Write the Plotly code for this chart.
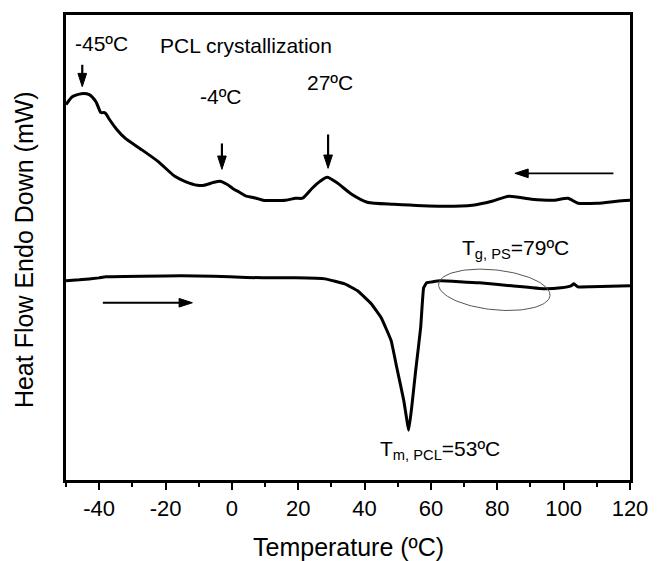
import numpy as np
import plotly.graph_objects as go

# ---- data (y in arbitrary heat-flow units) ----
cool_T = [-50, -48.1, -45.4, -43.0, -41.0, -39.5, -38.6, -38.0, -37.1, -34.7, -32.1, -27.3,
          -22.3, -17.2, -14.2, -10.4, -8.4, -5.4, -3.6, -1.5, 0.6, 2.3, 4.4, 7.3, 9.4,
          16.2, 19.2, 21.3, 24.2, 26.6, 28.7, 31.9, 36.1, 40.8, 48.8, 63.6, 72.5, 78.4,
          83.5, 90.3, 97.2, 101.3, 104.3, 110.2, 116.1, 120]
cool_HF = [377, 385, 388, 387, 380, 369, 369, 368, 363, 352, 343, 332,
           320, 305, 300, 296, 296, 299, 300, 297, 292, 289, 285, 283, 281,
           281, 283, 283, 293, 300, 304, 298, 287, 279, 277, 275, 276, 280,
           285, 282, 281, 283, 278, 278, 280, 281]

heat_T = [-50, -46.0, -40.1, -38.0, -20.2, -10.4, -0.7, 9.4, 19.2, 28.1, 34.0, 37.9,
          42.0, 45.0, 48.0, 49.7, 51.8, 53.3, 54.2, 55.4, 56.9, 57.8, 58.7, 62.8,
          74.6, 84.4, 94.2, 99.2, 102.2, 103.1, 104.3, 108.1, 120]
heat_HF = [200, 201, 203, 204, 205, 205, 204, 203, 203, 202, 197, 190,
           177, 163, 140, 113, 80, 50, 73, 110, 153, 193, 198, 200,
           198, 195, 192, 193, 195, 197, 194, 194, 195]

x_ticks = [-40, -20, 0, 20, 40, 60, 80, 100, 120]
x_ticktext = ["-40", "-20", "0", "20", "40", "60", "80", "100", "120"]
x_range = [-50, 120]
y_range = [0, 467]

# ellipse marking the PS glass transition
ell_center = (79.1, 191)
ell_a_px, ell_b_px, ell_angle_deg = 57, 20, -6

# arrows: (tail_x, tail_y, tip_x, tip_y, line width, head size)
arrows = [
    (-45.1, 417, -45.1, 395, 2.2, 14),
    (-3.0, 338, -3.0, 312, 2.2, 14),
    (29.0, 347, 29.0, 313, 2.2, 14),
    (115.0, 308, 85.3, 308, 1.8, 14),
    (-38.9, 178, -11.9, 178, 1.8, 14),
]

FONT = "Liberation Sans, Arial, Helvetica, sans-serif"

fig = go.Figure()
fig.add_trace(go.Scatter(x=cool_T, y=cool_HF, mode="lines",
                         line=dict(color="black", width=3, shape="spline", smoothing=0.6),
                         showlegend=False, hoverinfo="skip"))
fig.add_trace(go.Scatter(x=heat_T, y=heat_HF, mode="lines",
                         line=dict(color="black", width=3, shape="spline", smoothing=0.3),
                         showlegend=False, hoverinfo="skip"))

# ellipse (computed in pixel space, converted to data units)
plot_w_px, plot_h_px = 574.0, 467.0
sx = (x_range[1] - x_range[0]) / plot_w_px
sy = (y_range[1] - y_range[0]) / plot_h_px
t = np.linspace(0, 2 * np.pi, 120)
th = np.deg2rad(ell_angle_deg)
ex = ell_a_px * np.cos(t) * np.cos(th) - ell_b_px * np.sin(t) * np.sin(th)
ey = ell_a_px * np.cos(t) * np.sin(th) + ell_b_px * np.sin(t) * np.cos(th)
fig.add_trace(go.Scatter(x=ell_center[0] + ex * sx, y=ell_center[1] + ey * sy, mode="lines",
                         line=dict(color="#555555", width=1), showlegend=False, hoverinfo="skip"))

for x0, y0, x1, y1, w, hs in arrows:
    fig.add_trace(go.Scatter(x=[x0, x1], y=[y0, y1], mode="lines+markers",
                             line=dict(color="black", width=w),
                             marker=dict(symbol="arrow", size=[0, hs], angleref="previous",
                                         color="black", opacity=1,
                                         line=dict(width=1, color="black")),
                             showlegend=False, hoverinfo="skip"))

ann_font = dict(family=FONT, size=21, color="black")
texts = [
    (-39.2, 438, "-45ºC"),
    (4.4, 436, "PCL crystallization"),
    (-3.3, 385, "-4ºC"),
    (29.6, 399, "27ºC"),
]
for x, y, s in texts:
    fig.add_annotation(x=x, y=y, text=s, showarrow=False, font=ann_font,
                       xanchor="center", yanchor="middle")

fig.add_annotation(x=68.9, y=232, text="T<sub>g, PS</sub>=79ºC", showarrow=False,
                   font=ann_font, xanchor="left", yanchor="middle")
fig.add_annotation(x=44.0, y=30, text="T<sub>m, PCL</sub>=53ºC", showarrow=False,
                   font=ann_font, xanchor="left", yanchor="middle")

# axis titles placed as paper annotations for exact position
fig.add_annotation(xref="paper", yref="paper", x=0.5, y=-0.145, xanchor="center",
                   yanchor="middle", text="Temperature (ºC)", showarrow=False,
                   font=dict(family=FONT, size=25, color="black"))
fig.add_annotation(xref="paper", yref="paper", x=-0.074, y=0.495, xanchor="center",
                   yanchor="middle", text="Heat Flow Endo Down (mW)", textangle=-90,
                   showarrow=False, font=dict(family=FONT, size=25, color="black"))

fig.update_layout(
    width=660, height=561,
    margin=dict(l=66, r=20, t=13, b=81),
    paper_bgcolor="white", plot_bgcolor="white",
    font=dict(family=FONT, color="black"),
    xaxis=dict(range=x_range, tickvals=x_ticks, ticktext=x_ticktext, ticks="outside",
               ticklen=7, tickwidth=2,
               tickcolor="black", showline=True, linecolor="black", linewidth=2.5, mirror=True,
               showgrid=False, zeroline=False, tickfont=dict(size=22, family=FONT),
               minor=dict(ticks="outside", ticklen=4, tickwidth=2, dtick=10, tick0=0,
                          tickcolor="black", showgrid=False)),
    yaxis=dict(range=y_range, showticklabels=False, ticks="", showline=True, linecolor="black",
               linewidth=2.5, mirror=True, showgrid=False, zeroline=False),
)

fig.write_html("out.html")
